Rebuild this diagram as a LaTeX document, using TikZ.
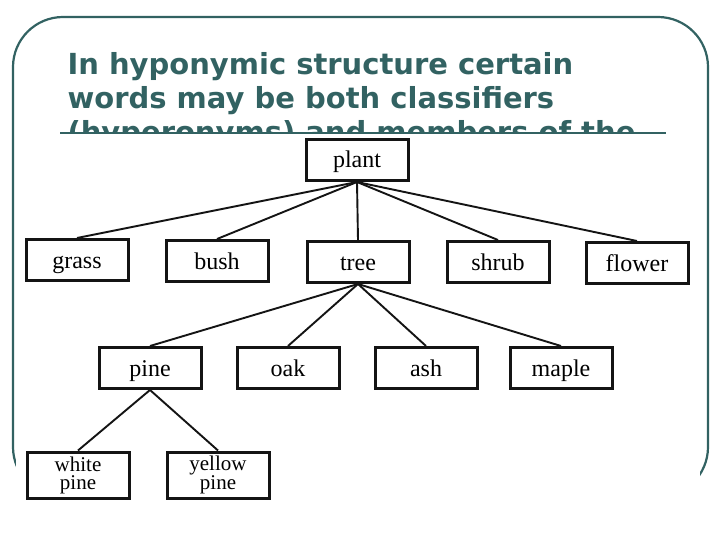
\documentclass[tikz,border=0pt]{standalone}
\usepackage{fontspec}
\setmainfont{Liberation Serif}
\newfontfamily\titlefont{DejaVu Sans}
\usetikzlibrary{positioning}
\definecolor{myteal}{RGB}{50,98,98}
\definecolor{myink}{RGB}{20,20,20}
\tikzset{
  wordbox/.style={rectangle, draw=myink, line width=3pt,
    minimum width=102pt, minimum height=41pt, inner sep=2pt,
    font=\fontsize{24}{19}\selectfont, align=center,
    text height=18pt, text depth=2pt},
  pairbox/.style={wordbox, text height=, text depth=,
    minimum height=46pt, inner sep=0pt,
    font=\fontsize{21}{18}\selectfont},
  link/.style={line width=1.9pt, color=myink},
  frame/.style={draw=myteal, line width=2.2pt, rounded corners=50pt},
  titleline/.style={anchor=base west, text=myteal,
    font=\titlefont\bfseries\fontsize{29}{34}\selectfont}
}

\begin{document}
\begin{tikzpicture}[x=1pt, y=-1pt]
  \useasboundingbox (0,0) rectangle (720,540);
  \fill[white] (0,0) rectangle (720,540);

  % slide frame and title
  \draw[frame] (13,17) rectangle (708,497);
  \node[titleline] (title1) at (64,75) {In hyponymic structure certain};
  \node[titleline] (title2) at (64,109) {words may be both classifiers};
  \node[titleline] (title3) at (64,143) {(hyperonyms) and members of the};

  % pasted figure covers the lower slide
  \fill[white] (16,134) rectangle (700,540);
  \draw[myteal, line width=1.5pt] (60,133) -- (666,133);

  % Top
  \node[wordbox] (plant) at (357,160) {plant};

  % Level 2
  \node[wordbox] (grass) at (77,260) {grass};
  \node[wordbox] (bush) at (217,261) {bush};
  \node[wordbox] (tree) at (358,262) {tree};
  \node[wordbox] (shrub) at (498,262) {shrub};
  \node[wordbox] (flower) at (637,263) {flower};

  % Level 3
  \node[wordbox] (pine) at (150,368) {pine};
  \node[wordbox] (oak) at (288,368) {oak};
  \node[wordbox] (ash) at (426,368) {ash};
  \node[wordbox] (maple) at (561,368) {maple};

  % Level 4
  \node[pairbox] (whitepine) at (78,475) {white\\pine};
  \node[pairbox] (yellowpine) at (218,475) {yellow\\pine};

  % Links
  \foreach \n in {grass, bush, tree, shrub, flower} {
    \draw[link] (plant.south) -- (\n.north);
  }
  \foreach \n in {pine, oak, ash, maple} {
    \draw[link] (tree.south) -- (\n.north);
  }
  \foreach \n in {whitepine, yellowpine} {
    \draw[link] (pine.south) -- (\n.north);
  }
\end{tikzpicture}
\end{document}
